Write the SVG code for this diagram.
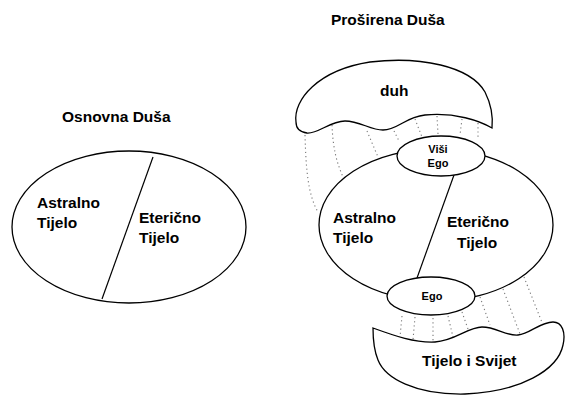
<svg xmlns="http://www.w3.org/2000/svg" width="575" height="406" viewBox="0 0 575 406">
<style>
.s{fill:#fff;stroke:#000;stroke-width:1.3}
.ln{fill:none;stroke:#000;stroke-width:1.2}
.d{fill:none;stroke:#777;stroke-width:1.1;stroke-dasharray:1.2 3}
text{font-family:"Liberation Sans",Arial,sans-serif;font-weight:bold;fill:#000}
.t15{font-size:15.5px}
.t11{font-size:11px}
</style>
<rect width="575" height="406" fill="#fff"/>
<text class="t15" x="62" y="122">Osnovna Duša</text>
<text class="t15" x="331" y="25">Proširena Duša</text>
<g id="connectors">
<path class="d" d="M305,135 C306,170 308,195 318,212"/>
<path class="d" d="M332,125 C333,150 337,163 343,177"/>
<path class="d" d="M367,131 L378,157"/>
<path class="d" d="M394,131 L399,141"/>
<path class="d" d="M415,119 L422,137"/>
<path class="d" d="M437,116 L438,134"/>
<path class="d" d="M462,119 L460,135"/>
<path class="d" d="M478,123 L478,137"/>
<path class="d" d="M402,316 L400,337"/>
<path class="d" d="M415,317 L413,340"/>
<path class="d" d="M433,318 L433,342"/>
<path class="d" d="M448,316 L453,337"/>
<path class="d" d="M462,312 L468,329"/>
<path class="d" d="M480,297 L490,325"/>
<path class="d" d="M503,289 L520,334"/>
<path class="d" d="M524,277 L543,325"/>
</g>
<g id="osnovna">
<ellipse class="s" cx="129" cy="227" rx="117" ry="76"/>
<line class="ln" x1="153" y1="157" x2="102" y2="299"/>
<text class="t15" x="37" y="208">Astralno</text>
<text class="t15" x="37" y="228">Tijelo</text>
<text class="t15" x="139" y="223">Eterično</text>
<text class="t15" x="139" y="243">Tijelo</text>
</g>
<g id="duh">
<path class="s" d="M296,122 C293,100 318,70 370,62 C420,56 470,66 485,92 C492,106 493,118 492,128 C480,121 455,112 425,115 C405,117 398,130 383,130 C370,130 360,121 345,121 C330,121 318,134 307,133 C299,132 296,127 296,122 Z"/>
<text class="t15" x="380" y="96">duh</text>
</g>
<g id="tijelo-svijet">
<path class="s" d="M373,328 C395,336 415,343 435,342 C455,341 468,327 482,327 C497,327 505,336 518,335 C530,334 540,322 553,322 C562,322 566,332 563,345 C558,370 520,392 465,394 C415,395 385,378 378,360 C373,348 373,335 373,328 Z"/>
<text class="t15" x="422" y="366">Tijelo i Svijet</text>
</g>
<g id="prosirena">
<ellipse class="s" cx="436" cy="225" rx="117" ry="76"/>
<line class="ln" x1="454" y1="175" x2="417" y2="278"/>
<text class="t15" x="333" y="223">Astralno</text>
<text class="t15" x="333" y="243">Tijelo</text>
<text class="t15" x="447" y="227">Eterično</text>
<text class="t15" x="457" y="248">Tijelo</text>
</g>
<g id="visi-ego">
<ellipse class="s" cx="441" cy="156" rx="44" ry="20"/>
<text class="t11" x="438" y="153" text-anchor="middle">Viši</text>
<text class="t11" x="438" y="167" text-anchor="middle">Ego</text>
</g>
<g id="ego">
<ellipse class="s" cx="431" cy="296" rx="44" ry="19"/>
<text class="t11" x="432" y="300" text-anchor="middle">Ego</text>
</g>
</svg>
